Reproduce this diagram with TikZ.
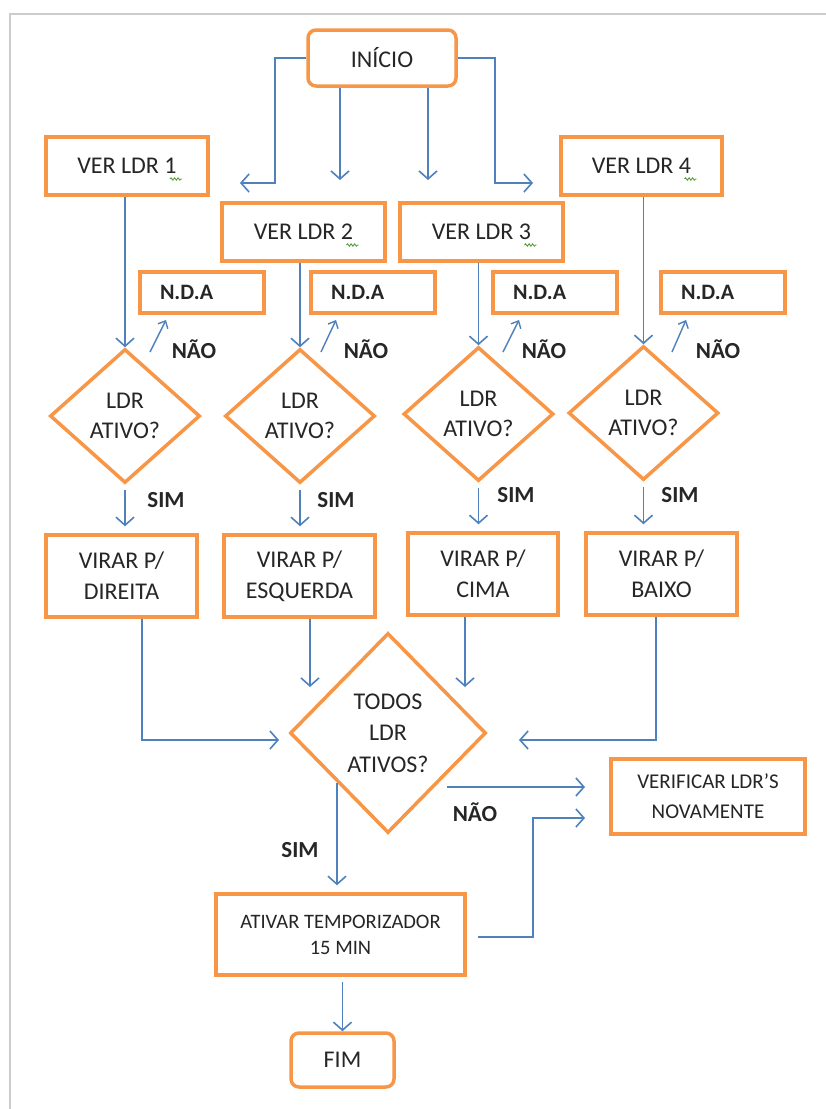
\documentclass[tikz,border=0pt]{standalone}
\usepackage{fontspec}
\setmainfont{Carlito}
\usetikzlibrary{shapes.geometric,arrows.meta,decorations.pathmorphing}
\definecolor{orng}{HTML}{F79646}
\definecolor{blu}{HTML}{4F81BD}
\definecolor{txt}{HTML}{262626}
\definecolor{squig}{HTML}{5A9E3A}
\begin{document}
\begin{tikzpicture}[x=1pt,y=-1pt,
 box/.style={draw=orng,line width=3.5pt,fill=white,text=txt,inner sep=0pt,align=center,font=\fontsize{24}{31}\selectfont},
 rbox/.style={box,rounded corners=8pt},
 ndabox/.style={box,font=\bfseries\fontsize{22}{26}\selectfont,minimum height=41pt,text width=84pt,inner xsep=20pt,align=left},
 dec/.style={diamond,draw=orng,line width=3.5pt,fill=white,text=txt,inner sep=0pt,align=center,font=\fontsize{24}{30}\selectfont},
 ln/.style={draw=blu,line width=1.4pt},
 arr/.style={ln,-{Straight Barb[length=8pt,width=18pt,line width=1.6pt]}},
 sarr/.style={ln,-{Straight Barb[length=6pt,width=11pt,line width=1.4pt]}},
 lbl/.style={text=txt,font=\bfseries\fontsize{23}{28}\selectfont,inner sep=0pt},
 sq/.style={draw=squig,line width=0.9pt,decorate,decoration={snake,amplitude=1.2pt,segment length=3.5pt}},
]
\useasboundingbox (0,0) rectangle (826,1109);
\fill[white] (0,0) rectangle (826,1109);
\draw[black!20,line width=2.5pt] (10,1109) -- (10,14) -- (826,14);

% nodes
\node[rbox,minimum width=148pt,minimum height=56pt] (ini) at (382,58) {INÍCIO};
\node[box,minimum width=162pt,minimum height=58pt] (v1) at (127,166) {VER LDR 1};
\node[box,minimum width=163pt,minimum height=58pt] (v2) at (303.5,232) {VER LDR 2};
\node[box,minimum width=163pt,minimum height=58pt] (v3) at (481.5,232) {VER LDR 3};
\node[box,minimum width=161pt,minimum height=58pt] (v4) at (641.5,166) {VER LDR 4};

\node[ndabox] (n1) at (202,292.5) {N.D.A};
\node[ndabox] (n2) at (373,292.5) {N.D.A};
\node[ndabox] (n3) at (555,292.5) {N.D.A};
\node[ndabox] (n4) at (723,292.5) {N.D.A};

\node[dec,minimum width=150pt,minimum height=134pt] (d1) at (125,416) {LDR\\ATIVO?};
\node[dec,minimum width=150pt,minimum height=134pt] (d2) at (300,416) {LDR\\ATIVO?};
\node[dec,minimum width=150pt,minimum height=134pt] (d3) at (478.5,414) {LDR\\ATIVO?};
\node[dec,minimum width=150pt,minimum height=134pt] (d4) at (643.5,413) {LDR\\ATIVO?};

\node[box,minimum width=151pt,minimum height=82pt] (r1) at (121.5,576) {VIRAR P/\\DIREITA};
\node[box,minimum width=151pt,minimum height=82pt] (r2) at (299.5,576) {VIRAR P/\\ESQUERDA};
\node[box,minimum width=150pt,minimum height=82pt] (r3) at (483,574) {VIRAR P/\\CIMA};
\node[box,minimum width=151pt,minimum height=82pt] (r4) at (661.5,574) {VIRAR P/\\BAIXO};

\node[dec,minimum width=196pt,minimum height=200pt,font=\fontsize{24}{31.5}\selectfont] (big) at (388,733) {TODOS\\LDR\\ATIVOS?};
\node[box,minimum width=194pt,minimum height=75pt,font=\fontsize{21}{30}\selectfont] (ver) at (708,796.5) {VERIFICAR LDR’S\\NOVAMENTE};
\node[box,minimum width=249pt,minimum height=81pt,font=\fontsize{20.5}{26}\selectfont] (ativ) at (340.5,934.5) {ATIVAR TEMPORIZADOR\\15 MIN};
\node[rbox,minimum width=103pt,minimum height=54pt] (fim) at (342.5,1060) {FIM};

% spell-check squiggles
\draw[sq] ([xshift=43pt,yshift=-13pt]v1.center) -- ++(12,0);
\draw[sq] ([xshift=43pt,yshift=-13pt]v2.center) -- ++(12,0);
\draw[sq] ([xshift=43pt,yshift=-13pt]v3.center) -- ++(12,0);
\draw[sq] ([xshift=43pt,yshift=-13pt]v4.center) -- ++(12,0);

% coordinates for free ends
\coordinate (cL) at (240,183);
\coordinate (cR) at (533,183);
\coordinate (cM1) at (340,180);
\coordinate (cM2) at (428,180);

% INICIO branches
\draw[arr] (ini.west) -- (275,58) -- (275,183) -- (cL);
\draw[arr] (ini.east) -- (495,58) -- (495,183) -- (cR);
\draw[arr] (ini.south -| cM1) -- (cM1);
\draw[arr] (ini.south -| cM2) -- (cM2);

% VER LDR -> decisions
\foreach \i in {1,2,3,4}{
  \draw[arr] (v\i.south -| d\i.north) -- (d\i.north);
}

% NAO arrows
\coordinate (a1) at (150,352); \coordinate (b1) at (166,320);
\coordinate (a2) at (321,352); \coordinate (b2) at (336,320);
\coordinate (a3) at (503,352); \coordinate (b3) at (519,320);
\coordinate (a4) at (672,352); \coordinate (b4) at (686,320);
\foreach \i in {1,2,3,4}{ \draw[sarr] (a\i) -- (b\i); }
\node[lbl] (no1) at (194,349) {NÃO};
\node[lbl] (no2) at (366,349) {NÃO};
\node[lbl] (no3) at (544,349) {NÃO};
\node[lbl] (no4) at (718,349) {NÃO};

% SIM arrows
\foreach \i in {1,2,3,4}{
  \draw[arr,shorten <=5pt,shorten >=7pt] (d\i.south) -- (d\i.south |- r\i.north);
}
\node[lbl] (s1) at (166,500) {SIM};
\node[lbl] (s2) at (336,500) {SIM};
\node[lbl] (s3) at (516,495) {SIM};
\node[lbl] (s4) at (680,495) {SIM};

% merging into big decision
\coordinate (cB1) at (279,740);
\coordinate (cB2) at (310,687);
\coordinate (cB3) at (465,687);
\coordinate (cB4) at (519,740);
\draw[arr] (r1.south -| 142,0) |- (cB1);
\draw[arr] (r2.south -| cB2) -- (cB2);
\draw[arr] (r3.south -| cB3) -- (cB3);
\draw[arr] (r4.south -| 656,0) |- (cB4);

% NAO from big
\coordinate (cN1) at (447,787);
\coordinate (cN2) at (585,787);
\draw[arr] (cN1) -- (cN2);
\node[lbl] (nob) at (475,812) {NÃO};

% SIM from big
\coordinate (cS1) at (337,783);
\draw[arr,shorten >=7pt] (cS1) -- (ativ.north -| cS1);
\node[lbl] (sb) at (300,850) {SIM};

% ativar -> verificar
\coordinate (cT1) at (478,937);
\coordinate (cT2) at (585,818);
\draw[arr] (cT1) -| (533,818) -- (cT2);

% ativar -> fim
\draw[arr,shorten <=5pt] (ativ.south -| fim.north) -- (fim.north);
\end{tikzpicture}
\end{document}
